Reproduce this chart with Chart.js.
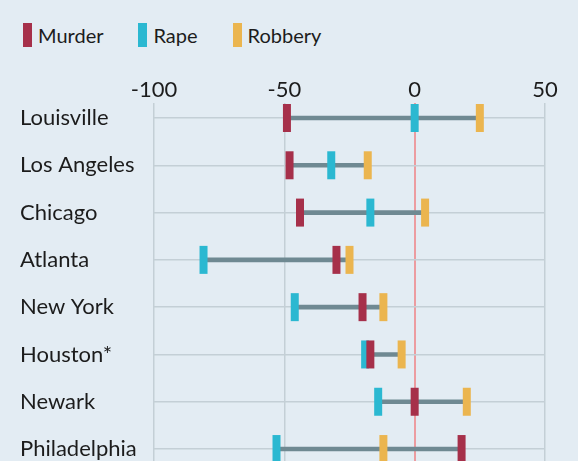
<!DOCTYPE html>
<html>
<head>
<meta charset="utf-8">
<script src="https://cdn.jsdelivr.net/npm/chart.js@4.4.1/dist/chart.umd.min.js"></script>
<style>
  html, body { margin: 0; padding: 0; background: #e3ecf3; overflow: hidden; }
  .wrap { position: relative; width: 578px; height: 461px; overflow: hidden; }
  #legend { position: absolute; top: 23px; left: 23px; display: flex; font-family: Lato, sans-serif; font-size: 20px; color: #1c1c1c; line-height: 24px; }
  .legend-item { display: flex; align-items: center; }
  .swatch { width: 9px; height: 24px; margin-right: 6px; }
  canvas { position: absolute; top: 0; left: 0; }
</style>
</head>
<body>
<div class="wrap">
  <div id="legend"></div>
  <canvas id="chart" width="578" height="512"></canvas>
</div>
<script>
const cities = ['Louisville', 'Los Angeles', 'Chicago', 'Atlanta', 'New York', 'Houston*', 'Newark', 'Philadelphia'];
const murder = [-49, -48, -44, -30, -20, -17, 0, 18];
const rape = [0, -32, -17, -81, -46, -19, -14, -53];
const robbery = [25, -18, 4, -25, -12, -5, 20, -12];
const xTicks = [-100, -50, 0, 50];

const series = [
  { label: 'Murder', data: murder, color: '#a6304a' },
  { label: 'Rape', data: rape, color: '#2bb8d1' },
  { label: 'Robbery', data: robbery, color: '#ebb54f' },
];

const FONT = 'Lato, sans-serif';
const legendGaps = [0, 35, 35];

const renderLegend = () => {
  const el = document.getElementById('legend');
  el.innerHTML = series
    .map((s, i) => `
      <div class="legend-item" style="margin-left:${legendGaps[i]}px">
        <span class="swatch" style="background:${s.color}"></span>${s.label}
      </div>`)
    .join('');
};

const init = () => {
  renderLegend();

  const spans = cities.map((c, i) => {
    const vals = [murder[i], rape[i], robbery[i]];
    return { y: i, x: [Math.min(...vals), Math.max(...vals)] };
  });

  const markerSets = series.map((s, i) => ({
    type: 'line',
    label: s.label,
    data: s.data.map((v, idx) => ({ x: v, y: idx })),
    showLine: false,
    pointStyle: 'line',
    rotation: 90,
    pointRadius: 14,
    pointBorderWidth: 8,
    pointBorderColor: s.color,
    pointBackgroundColor: s.color,
    borderColor: s.color,
    order: i + 1,
    clip: false,
  }));

  new Chart(document.getElementById('chart'), {
    type: 'bar',
    data: {
      datasets: [
        {
          label: 'range',
          data: spans,
          backgroundColor: '#6f8992',
          barThickness: 4,
          order: 10,
        },
        ...markerSets,
      ],
    },
    options: {
      indexAxis: 'y',
      responsive: false,
      animation: false,
      events: [],
      layout: { padding: { top: 68, left: 20, right: 33, bottom: 0 } },
      plugins: {
        legend: { display: false },
        tooltip: { enabled: false },
      },
      scales: {
        x: {
          type: 'linear',
          position: 'top',
          min: -100,
          max: 50,
          afterFit: (scale) => { scale.height = 35; },
          afterBuildTicks: (scale) => { scale.ticks = xTicks.map((v) => ({ value: v })); },
          border: { display: false },
          grid: {
            drawTicks: false,
            lineWidth: (ctx) => (ctx.tick && ctx.tick.value === 0 ? 2 : 1.5),
            color: (ctx) => (ctx.tick && ctx.tick.value === 0 ? '#ec9ca0' : '#c4cfd6'),
          },
          ticks: {
            padding: 0,
            color: '#1c1c1c',
            font: { family: FONT, size: 22 },
          },
        },
        y: {
          type: 'linear',
          reverse: true,
          offset: false,
          min: -0.317,
          max: 7.866,
          afterFit: (scale) => { scale.width = 134; },
          border: { display: false },
          grid: { drawTicks: false, offset: false, lineWidth: 1.5, color: '#c4cfd6' },
          ticks: {
            stepSize: 1,
            includeBounds: false,
            crossAlign: 'far',
            padding: 0,
            color: '#1c1c1c',
            font: { family: FONT, size: 22 },
            callback: (v) => cities[v] ?? '',
          },
        },
      },
    },
  });
};

window.addEventListener('DOMContentLoaded', init);
</script>
</body>
</html>
